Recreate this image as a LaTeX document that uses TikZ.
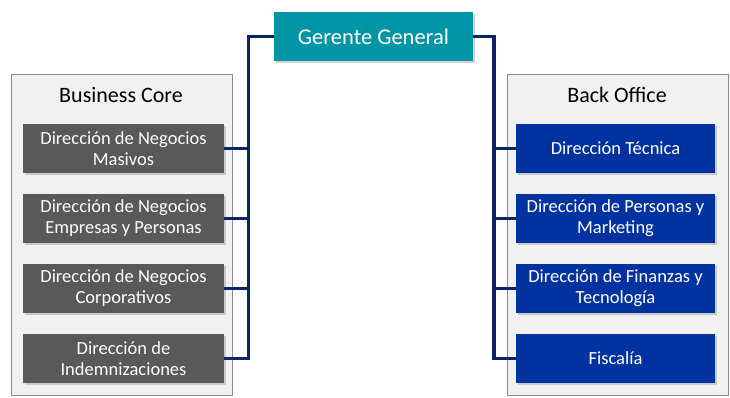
\documentclass[tikz,border=0pt]{standalone}
\usepackage{fontspec}
\setmainfont{Carlito}
\usetikzlibrary{shadows}
\definecolor{teal1}{HTML}{0095A6}
\definecolor{gray1}{HTML}{595959}
\definecolor{blue1}{HTML}{0033A0}
\definecolor{navy}{HTML}{0C2566}
\definecolor{panel}{HTML}{F1F1F1}
\definecolor{panelline}{HTML}{8C8C8C}
\tikzset{
  panelbox/.style={draw=panelline, line width=1.4pt, fill=panel, inner sep=0pt},
  unitbox/.style={minimum width=201pt, minimum height=49pt, inner sep=0pt, align=center,
    text=white, font=\fontsize{18.5}{21}\selectfont,
    drop shadow={shadow xshift=1.5pt, shadow yshift=-1.5pt, opacity=0.35, fill=gray}},
  graybox/.style={unitbox, fill=gray1},
  bluebox/.style={unitbox, fill=blue1, minimum width=199pt},
  topbox/.style={fill=teal1, minimum width=199pt, minimum height=49pt, inner sep=0pt,
    text=white, font=\fontsize{22.5}{26}\selectfont,
    drop shadow={shadow xshift=1.5pt, shadow yshift=-1.5pt, opacity=0.35, fill=gray}},
  titletext/.style={font=\fontsize{22}{26}\selectfont, text=black},
  trunk/.style={draw=navy, line width=3.8pt},
  branch/.style={draw=navy, line width=3pt},
}
\begin{document}
\begin{tikzpicture}[x=1pt, y=-1pt]
\useasboundingbox (0,0) rectangle (730,397);
% panels
\node[panelbox, minimum width=221pt, minimum height=321pt, anchor=north west] (lp) at (11,74) {};
\node[panelbox, minimum width=221pt, minimum height=321pt, anchor=north west] (rp) at (507,74) {};
\node[titletext] (lt) at (121,95) {Business Core};
\node[titletext] (rt) at (617,95) {Back Office};
% top
\node[topbox] (gg) at (373.5,36.5) {Gerente General};
% left boxes
\node[graybox] (l1) at (123.5,148.5) {Dirección de Negocios\\Masivos};
\node[graybox] (l2) at (123.5,218.5) {Dirección de Negocios\\Empresas y Personas};
\node[graybox] (l3) at (123.5,288.5) {Dirección de Negocios\\Corporativos};
\node[graybox] (l4) at (123.5,358.5) {Dirección de\\Indemnizaciones};
% right boxes
\node[bluebox] (r1) at (615.5,148.5) {Dirección Técnica};
\node[bluebox] (r2) at (615.5,218.5) {Dirección de Personas y\\Marketing};
\node[bluebox] (r3) at (615.5,288.5) {Dirección de Finanzas y\\Tecnología};
\node[bluebox] (r4) at (615.5,358.5) {Fiscalía};
% connectors
\coordinate (lj) at (248.5,36.5);
\coordinate (rj) at (494,36.5);
\draw[trunk, line join=miter] (gg.west) -- (lj) -- (lj |- l4.east) -- (l4.east);
\draw[trunk, line join=miter] (gg.east) -- (rj) -- (rj |- r4.west) -- (r4.west);
\draw[branch] (lj |- l1.east) -- (l1.east);
\draw[branch] (lj |- l2.east) -- (l2.east);
\draw[branch] (lj |- l3.east) -- (l3.east);
\draw[branch] (rj |- r1.west) -- (r1.west);
\draw[branch] (rj |- r2.west) -- (r2.west);
\draw[branch] (rj |- r3.west) -- (r3.west);
\end{tikzpicture}
\end{document}
